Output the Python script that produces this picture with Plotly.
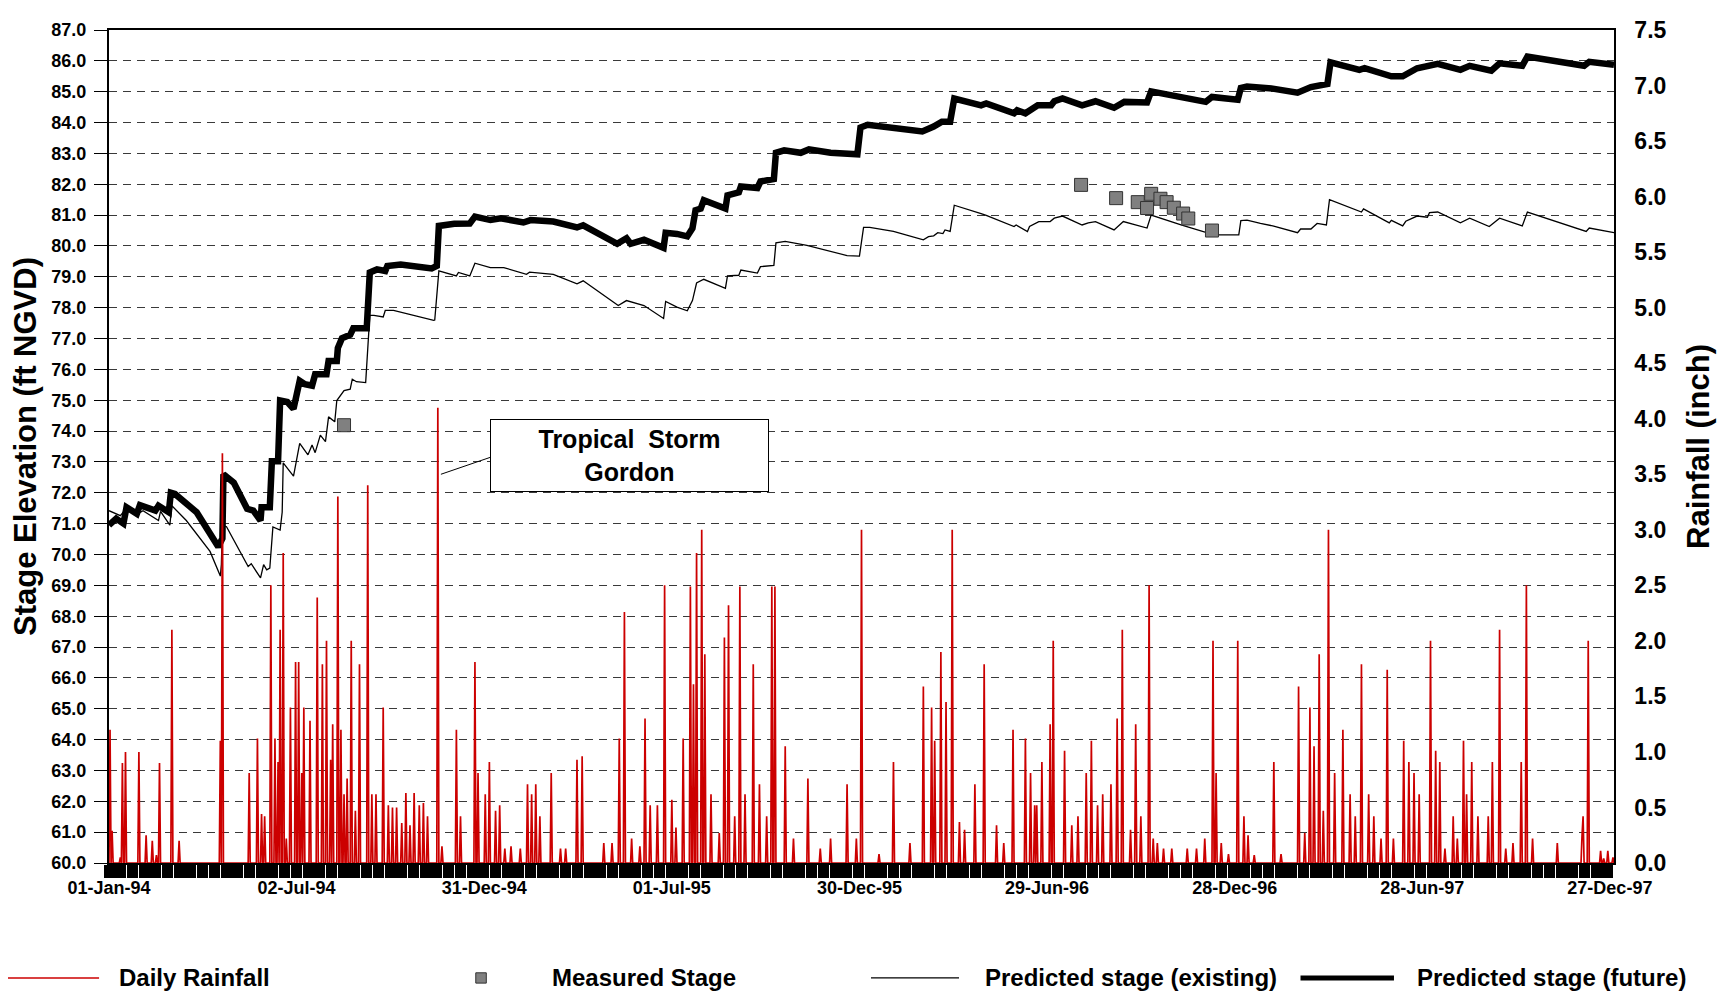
import numpy as np
import pandas as pd
import plotly.graph_objects as go

BASE = pd.Timestamp("1994-01-01")

# ---- Predicted stage (future) : day since 01-Jan-94, elevation ft NGVD
fut_day = [0, 7, 14, 17, 27, 30, 45, 48, 58, 60, 64, 85, 106, 110, 111, 121, 134, 140, 147, 148, 156, 158, 164,
           166, 173, 179, 185, 190, 197, 200, 211, 213, 221, 222, 226, 234, 237, 250, 253, 260, 268, 270, 283,
           299, 313, 318, 320, 335, 350, 355, 370, 380, 402, 409, 431, 454, 460, 493, 502, 506, 519, 538, 540,
           551, 561, 566, 569, 574, 577, 598, 600, 611, 613, 629, 632, 645, 647, 655, 671, 679, 700, 726, 729,
           736, 761, 789, 800, 808, 816, 820, 846, 851, 878, 881, 889, 901, 914, 917, 925, 944, 957, 975, 985,
           1007, 1011, 1033, 1064, 1070, 1095, 1098, 1104, 1129, 1153, 1166, 1182, 1185, 1213, 1218, 1244, 1255,
           1269, 1289, 1311, 1320, 1341, 1349, 1371, 1376, 1399, 1431, 1436, 1460]
fut_elev = [70.95, 71.16, 71.0, 71.53, 71.32, 71.6, 71.42, 71.58, 71.37, 72.0, 71.96, 71.37, 70.25, 70.52, 72.6,
            72.33, 71.48, 71.42, 71.1, 71.53, 71.53, 73.02, 73.02, 74.99, 74.94, 74.72, 75.63, 75.52, 75.47, 75.84,
            75.84, 76.27, 76.27, 76.69, 77.01, 77.12, 77.33, 77.33, 79.14, 79.24, 79.19, 79.35, 79.4, 79.33, 79.27,
            79.35, 80.65, 80.72, 80.73, 80.95, 80.84, 80.9, 80.76, 80.84, 80.79, 80.6, 80.67, 80.07, 80.25, 80.07,
            80.2, 79.94, 80.43, 80.39, 80.31, 80.57, 81.16, 81.21, 81.48, 81.21, 81.64, 81.74, 81.93, 81.88, 82.09,
            82.17, 83.02, 83.1, 83.02, 83.13, 83.02, 82.97, 83.84, 83.93, 83.82, 83.71, 83.87, 84.03, 84.03, 84.78,
            84.56, 84.62, 84.3, 84.4, 84.3, 84.56, 84.56, 84.69, 84.78, 84.56, 84.69, 84.48, 84.67, 84.65, 85.01,
            84.86, 84.67, 84.83, 84.74, 85.12, 85.17, 85.1, 84.97, 85.15, 85.25, 85.95, 85.71, 85.76, 85.5, 85.5,
            85.76, 85.9, 85.71, 85.84, 85.68, 85.92, 85.84, 86.14, 86.0, 85.84, 85.97, 85.87]

# ---- Predicted stage (existing)
ex_day = [0, 11, 17, 27, 33, 48, 50, 59, 61, 75, 98, 108, 109, 110, 114, 127, 135, 138, 147, 150, 153, 156, 159,
          166, 168, 169, 179, 185, 193, 197, 200, 205, 210, 213, 219, 221, 228, 234, 236, 240, 249, 253, 257, 266,
          268, 276, 295, 315, 316, 320, 337, 339, 350, 355, 370, 383, 405, 408, 431, 454, 460, 494, 502, 519, 538,
          540, 551, 561, 566, 570, 577, 598, 600, 611, 613, 629, 632, 645, 647, 656, 677, 716, 728, 732, 738, 761,
          790, 795, 800, 804, 809, 811, 816, 820, 846, 851, 878, 880, 891, 893, 902, 913, 917, 925, 944, 950, 957,
          975, 984, 1007, 1011, 1040, 1072, 1096, 1098, 1104, 1117, 1129, 1153, 1156, 1166, 1172, 1181, 1184, 1215,
          1217, 1242, 1244, 1255, 1258, 1269, 1279, 1281, 1289, 1311, 1320, 1339, 1349, 1371, 1376, 1433, 1436, 1460]
ex_elev = [71.42, 71.26, 71.5, 71.3, 71.42, 71.1, 71.4, 70.95, 71.58, 71.1, 70.1, 69.3, 69.67, 70.95, 70.9, 70.1,
           69.61, 69.7, 69.24, 69.67, 69.5, 69.56, 70.89, 70.79, 71.37, 72.97, 72.54, 73.6, 73.23, 73.55, 73.3,
           73.87, 73.66, 74.46, 74.3, 74.99, 75.31, 75.36, 75.68, 75.6, 75.57, 77.75, 77.75, 77.7, 77.91, 77.91,
           77.75, 77.59, 77.6, 79.19, 79.03, 79.14, 79.03, 79.44, 79.3, 79.3, 79.08, 79.15, 79.08, 78.77, 78.87,
           78.07, 78.23, 78.07, 77.65, 78.2, 78.02, 77.9, 78.23, 78.8, 78.92, 78.63, 79.03, 79.05, 79.22, 79.12,
           79.33, 79.37, 80.1, 80.15, 80.02, 79.69, 79.67, 80.6, 80.6, 80.47, 80.2, 80.3, 80.33, 80.43, 80.4,
           80.52, 80.47, 81.32, 81.05, 80.99, 80.63, 80.68, 80.47, 80.63, 80.79, 80.79, 80.9, 80.97, 80.68, 80.75,
           80.79, 80.52, 80.79, 80.58, 81.0, 80.68, 80.36, 80.36, 80.82, 80.84, 80.73, 80.65, 80.43, 80.55, 80.55,
           80.73, 80.68, 81.5, 81.1, 81.2, 80.75, 80.83, 80.65, 80.8, 80.97, 80.93, 81.08, 81.1, 80.75, 80.9,
           80.63, 80.9, 80.65, 81.1, 80.47, 80.58, 80.43]

# ---- Measured stage
meas_day = [228, 943, 977, 998, 1011, 1007, 1020, 1026, 1033, 1042, 1047, 1070]
meas_elev = [74.19, 81.98, 81.55, 81.42, 81.69, 81.23, 81.53, 81.42, 81.24, 81.05, 80.89, 80.5]

# ---- Daily rainfall: rain days (day since 01-Jan-94) and inches; all other days 0.0
rain_day = [1, 3, 11, 13, 16, 29, 36, 42, 46, 49, 61, 68, 108, 110, 136, 144, 148, 151, 157, 161, 164, 166, 169,
            172, 176, 181, 184, 187, 189, 195, 202, 207, 211, 215, 217, 222, 225, 228, 231, 235, 239, 243, 251, 255,
            259, 266, 271, 275, 279, 284, 288, 292, 296, 301, 305, 309, 319, 323, 337, 341, 355, 358, 365, 369, 375,
            379, 384, 390, 399, 406, 410, 414, 418, 429, 438, 443, 454, 459, 480, 488, 495, 500, 507, 515, 520, 525,
            532, 539, 546, 550, 557, 564, 567, 570, 575, 578, 584, 592, 597, 601, 607, 612, 617, 625, 631, 638, 643,
            646, 656, 664, 678, 690, 700, 716, 725, 730, 747, 761, 777, 790, 798, 801, 807, 812, 818, 825, 830, 840,
            849, 861, 868, 877, 889, 894, 898, 900, 905, 913, 916, 927, 934, 940, 948, 953, 959, 964, 972, 978, 983,
            991, 996, 1001, 1009, 1013, 1017, 1023, 1031, 1046, 1055, 1063, 1071, 1074, 1079, 1086, 1095, 1101, 1105,
            1111, 1130, 1137, 1154, 1160, 1165, 1169, 1174, 1178, 1183, 1189, 1197, 1204, 1209, 1215, 1222, 1227,
            1234, 1240, 1246, 1256, 1261, 1266, 1271, 1282, 1287, 1291, 1296, 1304, 1308, 1314, 1317, 1322, 1328,
            1338, 1342, 1349, 1355, 1362, 1370, 1375, 1381, 1405, 1429, 1430, 1435, 1447, 1450, 1454, 1459]
rain_in = [1.2, 0.29, 0.05, 0.9, 1.0, 1.0, 0.25, 0.2, 0.07, 0.9, 2.1, 0.2, 1.1, 3.69, 0.81, 1.12, 0.44, 0.42, 2.5,
           1.12, 0.91, 2.1, 2.79, 0.22, 1.4, 1.81, 1.81, 0.81, 1.4, 1.28, 2.39, 1.79, 2.0, 0.93, 1.25, 3.3, 1.2, 0.62,
           0.76, 2.0, 0.47, 1.79, 3.4, 0.62, 0.62, 1.4, 0.52, 0.5, 0.5, 0.36, 0.63, 0.34, 0.63, 0.52, 0.54, 0.42, 4.1,
           0.15, 1.2, 0.42, 1.81, 0.81, 0.62, 0.91, 0.47, 0.52, 0.13, 0.15, 0.13, 0.71, 0.62, 0.71, 0.42, 0.81, 0.13,
           0.13, 0.93, 0.96, 0.18, 0.18, 1.12, 2.26, 0.22, 0.15, 1.3, 0.52, 0.52, 2.5, 0.57, 0.32, 1.12, 2.49, 1.61,
           2.79, 3.0, 1.88, 0.62, 0.27, 2.03, 2.32, 0.42, 2.49, 0.62, 1.79, 0.71, 0.42, 2.49, 2.49, 1.05, 0.22, 0.76,
           0.13, 0.22, 0.71, 0.22, 3.0, 0.08, 0.91, 0.18, 1.59, 1.4, 1.1, 1.9, 1.45, 3.0, 0.37, 0.3, 0.71, 1.79, 0.34,
           0.18, 1.2, 1.12, 0.81, 0.52, 0.52, 0.91, 1.25, 2.0, 1.01, 0.34, 0.42, 0.81, 1.1, 0.52, 0.62, 0.71, 1.3,
           2.1, 0.3, 1.25, 0.42, 2.5, 0.22, 0.18, 0.13, 0.13, 0.13, 0.13, 0.22, 2.0, 0.81, 0.18, 0.08, 2.0, 0.42,
           0.25, 0.07, 0.91, 0.08, 1.59, 0.27, 1.4, 1.05, 1.88, 0.47, 3.0, 0.81, 1.2, 0.62, 0.42, 1.79, 0.62, 0.42,
           0.22, 1.74, 0.22, 1.1, 0.91, 0.81, 0.62, 2.0, 1.01, 0.91, 0.13, 0.42, 0.22, 1.1, 0.62, 0.91, 0.42, 0.42,
           0.91, 2.1, 0.13, 0.18, 0.91, 2.5, 0.22, 0.18, 0.25, 0.42, 2.0, 0.11, 0.04, 0.11, 0.05]

N_DAYS = 1461
x_tick_labels = ["01-Jan-94", "02-Jul-94", "31-Dec-94", "01-Jul-95", "30-Dec-95",
                 "29-Jun-96", "28-Dec-96", "28-Jun-97", "27-Dec-97"]


def to_date(days):
    return BASE + pd.to_timedelta(np.asarray(days, dtype=float), unit="D")


all_days = np.arange(N_DAYS)
daily_rain = np.zeros(N_DAYS)
daily_rain[np.array(rain_day)] = rain_in

FONT = "Liberation Sans, Arial, sans-serif"
RED = "#CC0000"

fig = go.Figure()
fig.add_trace(go.Scatter(x=to_date(all_days), y=daily_rain, yaxis="y2", mode="lines",
                         line=dict(color=RED, width=1.7), name="Daily Rainfall", showlegend=False))
fig.add_trace(go.Scatter(x=to_date(ex_day), y=ex_elev, mode="lines",
                         line=dict(color="black", width=1.3), name="Predicted stage (existing)", showlegend=False))
fig.add_trace(go.Scatter(x=to_date(fut_day), y=fut_elev, mode="lines",
                         line=dict(color="black", width=6.5), name="Predicted stage (future)", showlegend=False))
fig.add_trace(go.Scatter(x=to_date(meas_day), y=meas_elev, mode="markers",
                         marker=dict(symbol="square", size=13, color="#808080",
                                     line=dict(color="#333333", width=1)),
                         name="Measured Stage", showlegend=False))

tickvals = to_date(np.arange(0, 1457, 182))

fig.update_layout(
    width=1712, height=995,
    margin=dict(l=101, r=106, t=9, b=140),
    paper_bgcolor="white", plot_bgcolor="white",
    font=dict(family=FONT, size=18, color="black", weight="bold"),
    showlegend=False,
    xaxis=dict(
        type="date", range=[BASE, to_date([1460])[0]],
        tickvals=tickvals, ticktext=x_tick_labels,
        ticks="outside", ticklen=8, tickwidth=1, tickcolor="black",
        showline=True, linecolor="black", linewidth=1.5, mirror=True,
        showgrid=False, zeroline=False,
        tickfont=dict(size=18, family=FONT, weight="bold"),
        minor=dict(ticks="outside", ticklen=13, tickwidth=10.5, tickcolor="black",
                   dtick=11.36 * 86400000, tick0=BASE, showgrid=False),
    ),
    yaxis=dict(
        range=[60, 87], dtick=1, tickformat=".1f",
        ticks="outside", ticklen=13, tickcolor="black", tickwidth=1, ticklabelstandoff=4,
        showline=True, linecolor="black", linewidth=2,
        showgrid=True, gridcolor="#3a3a3a", gridwidth=1, griddash="8px,6px",
        zeroline=False,
        tickfont=dict(size=18, family=FONT, weight="bold"),
        title=dict(text="Stage Elevation (ft NGVD)", standoff=8,
                   font=dict(size=31, family=FONT, weight="bold")),
    ),
    yaxis2=dict(
        range=[0, 7.5], dtick=0.5, tickformat=".1f", overlaying="y", side="right",
        ticks="", showline=True, linecolor="black", linewidth=1.5,
        showgrid=False, zeroline=False, ticklabelstandoff=14,
        tickfont=dict(size=23, family=FONT, weight="bold"),
        title=dict(text="Rainfall (inch)", standoff=22,
                   font=dict(size=31, family=FONT, weight="bold")),
    ),
)

# Tropical Storm Gordon callout
fig.add_shape(type="line", xref="x", yref="y",
              x0=to_date([370])[0], y0=73.15, x1=to_date([322])[0], y1=72.6,
              line=dict(color="black", width=1))
fig.add_annotation(xref="x", yref="y", x=to_date([505])[0], y=73.2,
                   text="Tropical\u00a0 Storm<br>Gordon", showarrow=False,
                   font=dict(size=25, family=FONT, weight="bold", color="black"),
                   bgcolor="white", bordercolor="black", borderwidth=1, borderpad=3,
                   width=271, height=65, align="center")

# Legend row drawn below the plot (paper coordinates)
LY = -0.138
leg = [
    ("line", -0.0691, -0.0066, RED, 1.5, 0.0053, "Daily Rainfall"),
    ("marker", 0.2472, None, "#808080", None, 0.293, "Measured Stage"),
    ("line", 0.5063, 0.5648, "black", 1.3, 0.5807, "Predicted stage (existing)"),
    ("line", 0.7917, 0.8538, "black", 5, 0.8678, "Predicted stage (future)"),
]
for kind, a, b, col, w, tx, label in leg:
    if kind == "line":
        fig.add_shape(type="line", xref="paper", yref="paper", x0=a, x1=b, y0=LY, y1=LY,
                      line=dict(color=col, width=w))
    else:
        fig.add_shape(type="rect", xref="paper", yref="paper",
                      x0=a - 0.0035, x1=a + 0.0035, y0=LY - 0.0062, y1=LY + 0.0062,
                      fillcolor=col, line=dict(color="#333333", width=1))
    fig.add_annotation(xref="paper", yref="paper", x=tx, y=LY, xanchor="left", yanchor="middle",
                       text=label, showarrow=False,
                       font=dict(size=24, family=FONT, weight="bold", color="black"))

fig.write_html("out.html")
